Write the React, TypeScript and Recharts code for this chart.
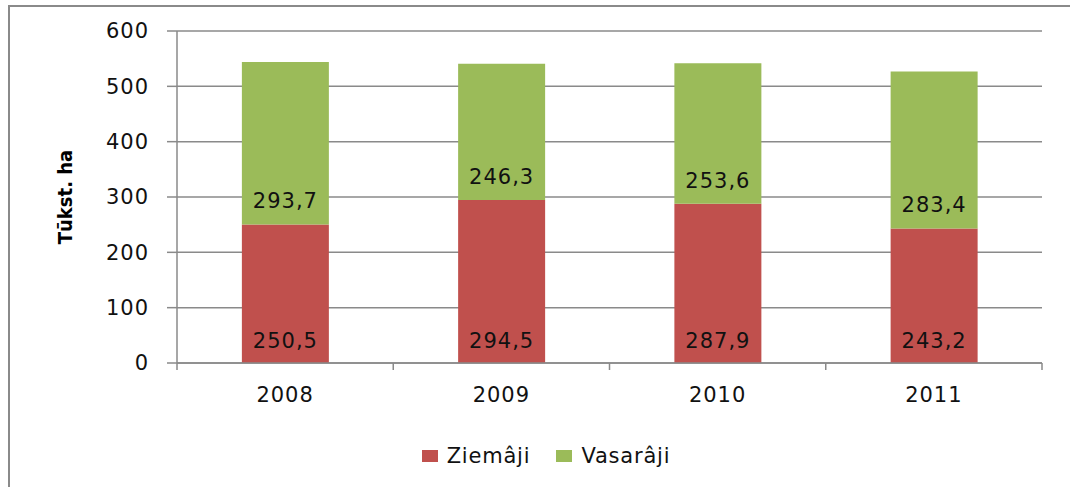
import React from 'react';
import { BarChart, Bar, XAxis, YAxis, CartesianGrid, Legend, LabelList, Label } from 'recharts';

const years = ['2008', '2009', '2010', '2011'];
const ziemaji = [250.5, 294.5, 287.9, 243.2];
const vasaraji = [293.7, 246.3, 253.6, 283.4];
const yTicks = [0, 100, 200, 300, 400, 500, 600];
const seriesNames = ['Ziemâji', 'Vasarâji'];
const seriesColors = ['#C0504D', '#9BBB59'];

const data = years.map((y, i) => ({ year: y, ziemaji: ziemaji[i], vasaraji: vasaraji[i] }));

const FONT = '"DejaVu Sans", Verdana, sans-serif';
const AXIS = '#8a8a8a';
const TXT = '#111';
const fmt = (v: any) => (typeof v === 'number' ? v.toFixed(1).replace('.', ',') : v);

const XTick = (props: any) => {
  const { x, y, payload, index, visibleTicksCount } = props;
  const off = payload && typeof payload.offset === 'number' ? payload.offset : 108.125;
  const y1 = y - 24;
  const y2 = y - 17;
  return (
    <g>
      <line x1={x - off} y1={y1} x2={x - off} y2={y2} stroke={AXIS} strokeWidth={1.5} />
      {index === visibleTicksCount - 1 ? (
        <line x1={x + off} y1={y1} x2={x + off} y2={y2} stroke={AXIS} strokeWidth={1.5} />
      ) : null}
      <text x={x} y={y} dy="0.71em" textAnchor="middle" fill={TXT} fontSize={21} fontFamily={FONT} letterSpacing={1}>
        {payload.value}
      </text>
    </g>
  );
};

const LegendContent = () => (
  <div style={{ display: 'flex', justifyContent: 'center', paddingLeft: 22, fontFamily: FONT, fontSize: 21, color: TXT, letterSpacing: 0.8 }}>
    {seriesNames.map((n, i) => (
      <div key={n} style={{ display: 'flex', alignItems: 'center', marginRight: i === 0 ? 26 : 0 }}>
        <div style={{ width: 16, height: 12, background: seriesColors[i], marginRight: 9 }} />
        <span style={{ lineHeight: '24px' }}>{n}</span>
      </div>
    ))}
  </div>
);

export default function App() {
  return (
    <div style={{ position: 'absolute', left: 0, top: 0, width: 1070, height: 487, overflow: 'hidden', background: '#fff' }}>
      <div style={{ position: 'absolute', left: 8, top: 5, width: 1300, height: 900, border: '2px solid #8a8a8a' }} />
      <div style={{ position: 'absolute', left: 0, top: 0 }}>
        <BarChart width={1070} height={487} data={data} margin={{ top: 31, right: 28, bottom: 84, left: 50 }} barCategoryGap="30%">
          <CartesianGrid vertical={false} stroke={AXIS} strokeWidth={1.5} />
          <XAxis
            dataKey="year"
            height={40}
            axisLine={{ stroke: AXIS, strokeWidth: 1.5 }}
            tickLine={false}
            tickSize={7}
            tickMargin={17}
            tick={<XTick />}
            interval={0}
          />
          <YAxis
            width={127}
            domain={[0, 600]}
            ticks={yTicks}
            interval={0}
            axisLine={{ stroke: AXIS, strokeWidth: 1.5 }}
            tickLine={{ stroke: AXIS, strokeWidth: 1.5 }}
            tickSize={10}
            tickMargin={18}
            tick={{ fill: TXT, fontSize: 21, fontFamily: FONT, letterSpacing: 1 }}
          >
            <Label
              value="Tūkst. ha"
              angle={-90}
              position="insideLeft"
              offset={15}
              style={{ textAnchor: 'middle', fontFamily: '"Liberation Sans Narrow", "DejaVu Sans Condensed", sans-serif', fontWeight: 'bold', fontSize: 20, fill: '#000' }}
            />
          </YAxis>
          <Legend layout="horizontal" verticalAlign="middle" align="center" wrapperStyle={{ top: 444, left: 0, width: 1070 }} content={<LegendContent />} />
          <Bar dataKey="ziemaji" name={seriesNames[0]} stackId="a" fill={seriesColors[0]} isAnimationActive={false}>
            <LabelList dataKey="ziemaji" position="insideBottom" offset={15} formatter={fmt} fill={TXT} fontSize={21} fontFamily={FONT} letterSpacing={1} />
          </Bar>
          <Bar dataKey="vasaraji" name={seriesNames[1]} stackId="a" fill={seriesColors[1]} isAnimationActive={false}>
            <LabelList dataKey="vasaraji" position="insideBottom" offset={16} formatter={fmt} fill={TXT} fontSize={21} fontFamily={FONT} letterSpacing={1} />
          </Bar>
        </BarChart>
      </div>
    </div>
  );
}
